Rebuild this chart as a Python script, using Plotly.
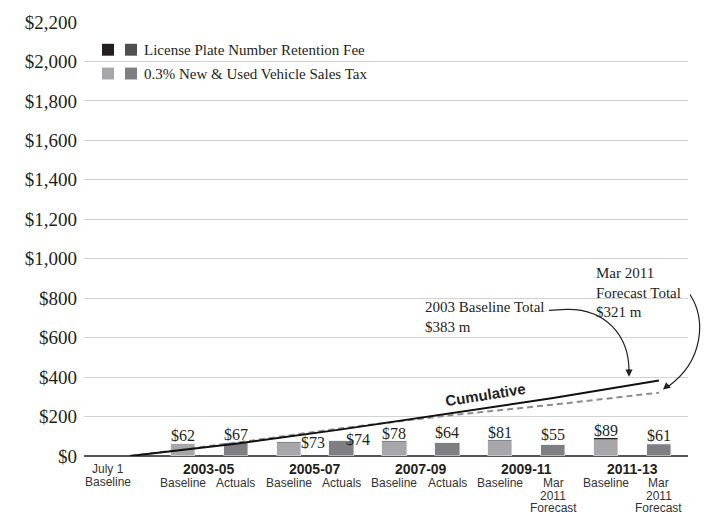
import numpy as np
import plotly.graph_objects as go

# ---------------- data ----------------
periods = ["2003-05", "2005-07", "2007-09", "2009-11", "2011-13"]
baseline_total = [62, 73, 78, 81, 89]
actual_total = [67, 74, 64, 55, 61]
baseline_plate = [0, 7, 7, 5, 7]
actual_plate = [0, 0, 0, 0, 5]
actual_sub = [["Actuals"], ["Actuals"], ["Actuals"], ["Mar", "2011", "Forecast"], ["Mar", "2011", "Forecast"]]
baseline_sub = ["Baseline"] * 5
start_label = ["July 1", "Baseline"]
ytick_vals = list(range(0, 2201, 200))
ytick_text = [f"${v:,}" for v in ytick_vals]

baseline_tax = [t - p for t, p in zip(baseline_total, baseline_plate)]
actual_tax = [t - p for t, p in zip(actual_total, actual_plate)]

bx = [1 + 2 * i for i in range(len(periods))]
ax_ = [2 + 2 * i for i in range(len(periods))]
cum_x = [0] + ax_
cum_base = [0] + list(np.cumsum(baseline_total))
cum_act = [0] + list(np.cumsum(actual_total))

# ---------------- style ----------------
C_BASE_TAX = "#a7a7a9"
C_BASE_PLATE = "#231f20"
C_ACT_TAX = "#7f7f81"
C_ACT_PLATE = "#505052"
SERIF = "Liberation Serif, Times New Roman, serif"
SANS = "Liberation Sans, Arial, sans-serif"
SANS_B = "Liberation Sans, Arial, sans-serif"
TXT = "#231f20"

W, H = 706, 514
ML, MR, MT, MB = 84, 18, 18, 58
PW, PH = W - ML - MR, H - MT - MB


def pp(px, py):
    return (px - ML) / PW, (H - MB - py) / PH


fig = go.Figure()
BW = 0.46
fig.add_bar(x=bx, y=baseline_tax, width=BW, marker_color=C_BASE_TAX, showlegend=False)
fig.add_bar(x=bx, y=baseline_plate, width=BW, marker_color=C_BASE_PLATE, showlegend=False)
fig.add_bar(x=ax_, y=actual_tax, width=BW, marker_color=C_ACT_TAX, showlegend=False)
fig.add_bar(x=ax_, y=actual_plate, width=BW, marker_color=C_ACT_PLATE, showlegend=False)

fig.add_scatter(x=cum_x, y=cum_act, mode="lines", line=dict(color="#8c8c8e", width=2, dash="6px,4px"),
                showlegend=False, hoverinfo="skip")
fig.add_scatter(x=cum_x, y=cum_base, mode="lines", line=dict(color="#111111", width=2),
                showlegend=False, hoverinfo="skip")

ann = []
# value labels
b_shift = [(0, 8), (24, -1), (0, 7), (0, 8), (0, 8)]
a_shift = [(0, 8), (16, 2), (0, 11), (0, 11), (0, 8)]
for i in range(len(periods)):
    for xv, tot, (dx, dy) in ((bx[i], baseline_total[i], b_shift[i]), (ax_[i], actual_total[i], a_shift[i])):
        ann.append(dict(x=xv, y=tot, text=f"${tot}", showarrow=False, xshift=dx, yshift=dy,
                        yanchor="middle", font=dict(family=SERIF, size=16, color=TXT)))

# x labels
SUBF = dict(family=SANS, size=12, color="#333333")
for i, p in enumerate(periods):
    ann.append(dict(x=(bx[i] + ax_[i]) / 2, y=0, xref="x", yref="paper", yanchor="middle", yshift=-13,
                    text=f"<b>{p}</b>", showarrow=False, font=dict(family=SANS_B, size=14, color=TXT)))
    ann.append(dict(x=bx[i], y=0, xref="x", yref="paper", yanchor="middle", yshift=-27,
                    text=baseline_sub[i], showarrow=False, font=SUBF))
    for j, line in enumerate(actual_sub[i]):
        ann.append(dict(x=ax_[i], y=0, xref="x", yref="paper", yanchor="middle", yshift=-27 - 12.5 * j,
                        text=line, showarrow=False, font=SUBF))
for j, line in enumerate(start_label):
    ann.append(dict(x=-0.42, y=0, xref="x", yref="paper", yanchor="middle", yshift=-13 - 13 * j,
                    text=line, showarrow=False, font=SUBF))

# cumulative label
ann.append(dict(x=6.73, y=311, text="<b>Cumulative</b>", textangle=-9, showarrow=False,
                font=dict(family=SANS_B, size=15, color=TXT)))

# callouts
ann.append(dict(x=5.54, y=804, xanchor="left", yanchor="top", align="left", showarrow=False,
                text="2003 Baseline Total<br>$383 m", font=dict(family=SERIF, size=15, color=TXT)))
ann.append(dict(x=8.77, y=977, xanchor="left", yanchor="top", align="left", showarrow=False,
                text="Mar 2011<br>Forecast Total<br>$321 m", font=dict(family=SERIF, size=15, color=TXT)))

t1 = pp(629, 376)
t2 = pp(663, 389)
ann.append(dict(x=t1[0], y=t1[1], xref="paper", yref="paper", text="", showarrow=True,
                ax=0, ay=-9, arrowhead=2, arrowsize=1.1, arrowwidth=1.3, arrowcolor=TXT))
ann.append(dict(x=t2[0], y=t2[1], xref="paper", yref="paper", text="", showarrow=True,
                ax=7, ay=-6, arrowhead=2, arrowsize=1.1, arrowwidth=1.3, arrowcolor=TXT))

shapes = []


def path_px(pts_cmd):
    out = []
    for cmd, pts in pts_cmd:
        coords = " ".join(f"{pp(x, y)[0]:.4f},{pp(x, y)[1]:.4f}" for x, y in pts)
        out.append(f"{cmd} {coords}")
    return " ".join(out)


shapes.append(dict(type="path", xref="paper", yref="paper",
                   path=path_px([("M", [(549, 309)]), ("L", [(566, 308)]),
                                 ("C", [(606, 307), (629, 335), (629, 370)])]),
                   line=dict(color=TXT, width=1.2)))
shapes.append(dict(type="path", xref="paper", yref="paper",
                   path=path_px([("M", [(690, 293)]),
                                 ("C", [(706, 318), (704, 360), (668, 386)])]),
                   line=dict(color=TXT, width=1.2)))

# legend
leg_rows = [((C_BASE_PLATE, C_ACT_PLATE), "License Plate Number Retention Fee", 46),
            ((C_BASE_TAX, C_ACT_TAX), "0.3% New & Used Vehicle Sales Tax", 70)]
for (c1, c2), label, cy in leg_rows:
    for x0, c in ((102, c1), (125, c2)):
        a = pp(x0, cy + 6)
        b = pp(x0 + 12, cy - 6)
        shapes.append(dict(type="rect", xref="paper", yref="paper", x0=a[0], y0=a[1], x1=b[0], y1=b[1],
                           fillcolor=c, line=dict(width=0)))
    q = pp(142, cy)
    ann.append(dict(x=q[0], y=q[1], xref="paper", yref="paper", xanchor="left", yanchor="middle",
                    text=label, showarrow=False, font=dict(family=SERIF, size=15, color=TXT)))

fig.update_layout(
    width=W, height=H, barmode="stack", bargap=0,
    margin=dict(l=ML, r=MR, t=MT, b=MB),
    paper_bgcolor="white", plot_bgcolor="white",
    annotations=ann, shapes=shapes,
    xaxis=dict(range=[-0.87, 10.55], showticklabels=False, showgrid=False, zeroline=False,
               fixedrange=True),
    yaxis=dict(range=[0, 2200], tickmode="array", tickvals=ytick_vals, ticktext=ytick_text,
               showgrid=True, gridcolor="#d2d2d2", gridwidth=1,
               zeroline=True, zerolinecolor="#555555", zerolinewidth=1.5,
               ticklabelstandoff=6,
               tickfont=dict(family=SERIF, size=19, color=TXT), fixedrange=True),
)

fig.write_html("out.html", config={"displayModeBar": False},
               post_script="document.body.style.margin='0';document.body.style.overflow='hidden';")
